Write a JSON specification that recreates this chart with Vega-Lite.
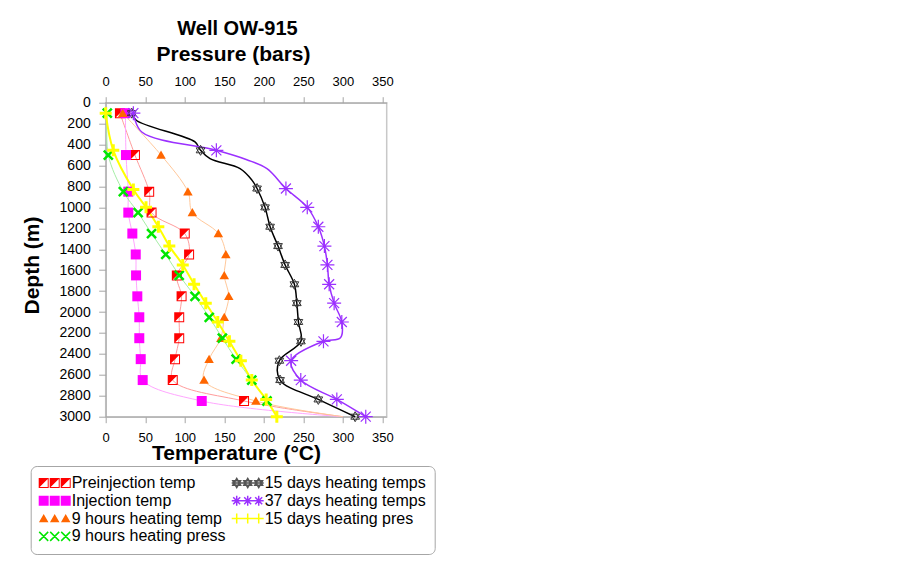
{
  "$schema": "https://vega.github.io/schema/vega-lite/v6.json",
  "width": 281,
  "height": 314,
  "autosize": "none",
  "padding": {"left": 105.7, "top": 102.7, "right": 516.3, "bottom": 157.3},
  "background": "white",
  "config": {
    "font": "Liberation Sans",
    "view": {"stroke": "#c8c8c8", "strokeWidth": 1.5}
  },
  "title": {
    "text": "Well OW-915",
    "font": "Liberation Sans",
    "fontSize": 20,
    "fontWeight": "bold",
    "color": "black",
    "anchor": "middle",
    "dx": -8.7,
    "offset": 5
  },
  "data": {
    "values": [
      {"series": "Preinjection temp", "depth": 100, "value": 18, "measured": true},
      {"series": "Preinjection temp", "depth": 500, "value": 37, "measured": true},
      {"series": "Preinjection temp", "depth": 850, "value": 55, "measured": true},
      {"series": "Preinjection temp", "depth": 1050, "value": 58, "measured": true},
      {"series": "Preinjection temp", "depth": 1250, "value": 100, "measured": true},
      {"series": "Preinjection temp", "depth": 1450, "value": 105.5, "measured": true},
      {"series": "Preinjection temp", "depth": 1650, "value": 90, "measured": true},
      {"series": "Preinjection temp", "depth": 1850, "value": 96, "measured": true},
      {"series": "Preinjection temp", "depth": 2050, "value": 93, "measured": true},
      {"series": "Preinjection temp", "depth": 2250, "value": 93, "measured": true},
      {"series": "Preinjection temp", "depth": 2450, "value": 87.7, "measured": true},
      {"series": "Preinjection temp", "depth": 2650, "value": 84.8, "measured": true},
      {"series": "Preinjection temp", "depth": 2850, "value": 175, "measured": true},
      {"series": "Preinjection temp", "depth": 3000, "value": 300, "measured": false},

      {"series": "Injection temp", "depth": 100, "value": 25, "measured": true},
      {"series": "Injection temp", "depth": 500, "value": 25.7, "measured": true},
      {"series": "Injection temp", "depth": 850, "value": 28.6, "measured": true},
      {"series": "Injection temp", "depth": 1050, "value": 28.6, "measured": true},
      {"series": "Injection temp", "depth": 1250, "value": 33.7, "measured": true},
      {"series": "Injection temp", "depth": 1450, "value": 38, "measured": true},
      {"series": "Injection temp", "depth": 1650, "value": 38.4, "measured": true},
      {"series": "Injection temp", "depth": 1850, "value": 40, "measured": true},
      {"series": "Injection temp", "depth": 2050, "value": 42.5, "measured": true},
      {"series": "Injection temp", "depth": 2250, "value": 42.5, "measured": true},
      {"series": "Injection temp", "depth": 2450, "value": 44.3, "measured": true},
      {"series": "Injection temp", "depth": 2650, "value": 46.8, "measured": true},
      {"series": "Injection temp", "depth": 2850, "value": 121.5, "measured": true},
      {"series": "Injection temp", "depth": 3000, "value": 300, "measured": false},

      {"series": "9 hours heating temp", "depth": 100, "value": 21.5, "measured": true},
      {"series": "9 hours heating temp", "depth": 500, "value": 70, "measured": true},
      {"series": "9 hours heating temp", "depth": 850, "value": 104, "measured": true},
      {"series": "9 hours heating temp", "depth": 1050, "value": 109.6, "measured": true},
      {"series": "9 hours heating temp", "depth": 1250, "value": 142.5, "measured": true},
      {"series": "9 hours heating temp", "depth": 1450, "value": 152, "measured": true},
      {"series": "9 hours heating temp", "depth": 1650, "value": 150, "measured": true},
      {"series": "9 hours heating temp", "depth": 1850, "value": 155.7, "measured": true},
      {"series": "9 hours heating temp", "depth": 2050, "value": 150, "measured": true},
      {"series": "9 hours heating temp", "depth": 2250, "value": 145.6, "measured": true},
      {"series": "9 hours heating temp", "depth": 2450, "value": 130.8, "measured": true},
      {"series": "9 hours heating temp", "depth": 2650, "value": 124.4, "measured": true},
      {"series": "9 hours heating temp", "depth": 2850, "value": 190, "measured": true},
      {"series": "9 hours heating temp", "depth": 3000, "value": 300, "measured": false},

      {"series": "9 hours heating press", "depth": 100, "value": 2, "measured": true},
      {"series": "9 hours heating press", "depth": 500, "value": 3.3, "measured": true},
      {"series": "9 hours heating press", "depth": 850, "value": 22.3, "measured": true},
      {"series": "9 hours heating press", "depth": 1050, "value": 41, "measured": true},
      {"series": "9 hours heating press", "depth": 1250, "value": 58, "measured": true},
      {"series": "9 hours heating press", "depth": 1450, "value": 76, "measured": true},
      {"series": "9 hours heating press", "depth": 1650, "value": 93, "measured": true},
      {"series": "9 hours heating press", "depth": 1850, "value": 113, "measured": true},
      {"series": "9 hours heating press", "depth": 2050, "value": 131, "measured": true},
      {"series": "9 hours heating press", "depth": 2250, "value": 147.6, "measured": true},
      {"series": "9 hours heating press", "depth": 2450, "value": 165, "measured": true},
      {"series": "9 hours heating press", "depth": 2650, "value": 184.8, "measured": true},
      {"series": "9 hours heating press", "depth": 2850, "value": 204, "measured": true},

      {"series": "15 days heating temps", "depth": 100, "value": 33, "measured": true},
      {"series": "15 days heating temps", "depth": 170, "value": 39, "measured": false},
      {"series": "15 days heating temps", "depth": 375, "value": 113, "measured": false},
      {"series": "15 days heating temps", "depth": 455, "value": 120, "measured": true},
      {"series": "15 days heating temps", "depth": 535, "value": 132, "measured": false},
      {"series": "15 days heating temps", "depth": 630, "value": 170, "measured": false},
      {"series": "15 days heating temps", "depth": 740, "value": 185, "measured": false},
      {"series": "15 days heating temps", "depth": 820, "value": 191.5, "measured": true},
      {"series": "15 days heating temps", "depth": 1000, "value": 201.6, "measured": true},
      {"series": "15 days heating temps", "depth": 1185, "value": 208, "measured": true},
      {"series": "15 days heating temps", "depth": 1370, "value": 218, "measured": true},
      {"series": "15 days heating temps", "depth": 1550, "value": 227, "measured": true},
      {"series": "15 days heating temps", "depth": 1735, "value": 238.7, "measured": true},
      {"series": "15 days heating temps", "depth": 1915, "value": 241.8, "measured": true},
      {"series": "15 days heating temps", "depth": 2095, "value": 243.8, "measured": true},
      {"series": "15 days heating temps", "depth": 2280, "value": 247, "measured": true},
      {"series": "15 days heating temps", "depth": 2465, "value": 219.7, "measured": true},
      {"series": "15 days heating temps", "depth": 2650, "value": 220.6, "measured": true},
      {"series": "15 days heating temps", "depth": 2835, "value": 269, "measured": true},
      {"series": "15 days heating temps", "depth": 3000, "value": 315.6, "measured": true},

      {"series": "37 days heating temps", "depth": 100, "value": 35, "measured": true},
      {"series": "37 days heating temps", "depth": 280, "value": 45.6, "measured": false},
      {"series": "37 days heating temps", "depth": 455, "value": 140, "measured": true},
      {"series": "37 days heating temps", "depth": 545, "value": 178.5, "measured": false},
      {"series": "37 days heating temps", "depth": 630, "value": 204, "measured": false},
      {"series": "37 days heating temps", "depth": 820, "value": 228, "measured": true},
      {"series": "37 days heating temps", "depth": 1000, "value": 255, "measured": true},
      {"series": "37 days heating temps", "depth": 1185, "value": 269, "measured": true},
      {"series": "37 days heating temps", "depth": 1370, "value": 276.7, "measured": true},
      {"series": "37 days heating temps", "depth": 1550, "value": 280.5, "measured": true},
      {"series": "37 days heating temps", "depth": 1735, "value": 282.7, "measured": true},
      {"series": "37 days heating temps", "depth": 1915, "value": 289, "measured": true},
      {"series": "37 days heating temps", "depth": 2095, "value": 298.7, "measured": true},
      {"series": "37 days heating temps", "depth": 2245, "value": 297, "measured": false},
      {"series": "37 days heating temps", "depth": 2280, "value": 275.5, "measured": true},
      {"series": "37 days heating temps", "depth": 2465, "value": 234.6, "measured": true},
      {"series": "37 days heating temps", "depth": 2650, "value": 246.8, "measured": true},
      {"series": "37 days heating temps", "depth": 2835, "value": 292.4, "measured": true},
      {"series": "37 days heating temps", "depth": 3000, "value": 329, "measured": true},

      {"series": "15 days heating pres", "depth": 100, "value": 0, "measured": true},
      {"series": "15 days heating pres", "depth": 455, "value": 9.6, "measured": true},
      {"series": "15 days heating pres", "depth": 830, "value": 35, "measured": true},
      {"series": "15 days heating pres", "depth": 1000, "value": 51, "measured": true},
      {"series": "15 days heating pres", "depth": 1185, "value": 66.6, "measured": true},
      {"series": "15 days heating pres", "depth": 1370, "value": 80.5, "measured": true},
      {"series": "15 days heating pres", "depth": 1550, "value": 97.5, "measured": true},
      {"series": "15 days heating pres", "depth": 1735, "value": 111.8, "measured": true},
      {"series": "15 days heating pres", "depth": 1915, "value": 126.6, "measured": true},
      {"series": "15 days heating pres", "depth": 2095, "value": 141.8, "measured": true},
      {"series": "15 days heating pres", "depth": 2280, "value": 156.5, "measured": true},
      {"series": "15 days heating pres", "depth": 2465, "value": 171, "measured": true},
      {"series": "15 days heating pres", "depth": 2650, "value": 184.8, "measured": true},
      {"series": "15 days heating pres", "depth": 2835, "value": 203, "measured": true},
      {"series": "15 days heating pres", "depth": 3000, "value": 216.5, "measured": true}
    ]
  },
  "encoding": {
    "x": {"field": "value", "type": "quantitative", "scale": {"domain": [0, 355.5], "nice": false, "zero": false}, "axis": null},
    "y": {
      "field": "depth",
      "type": "quantitative",
      "scale": {"domain": [0, 3000], "reverse": true, "nice": false, "zero": false},
      "axis": {
        "values": [0, 200, 400, 600, 800, 1000, 1200, 1400, 1600, 1800, 2000, 2200, 2400, 2600, 2800, 3000],
        "format": "d",
        "title": "Depth (m)",
        "titleFontSize": 21,
        "titleFontWeight": "bold",
        "titleColor": "black",
        "titleAngle": -90,
        "titleX": -67.2,
        "titleY": 162.3,
        "titleAlign": "center",
        "titleBaseline": "alphabetic",
        "labelFontSize": 14,
        "labelColor": "black",
        "labelPadding": 8.5,
        "tickSize": 7,
        "tickColor": "#a6a6a6",
        "domainColor": "#a6a6a6",
        "grid": false,
        "labelFlush": false,
        "labelOverlap": false
      }
    }
  },
  "layer": [
    {
      "transform": [{"filter": {"field": "series", "oneOf": ["Preinjection temp", "Injection temp", "9 hours heating temp", "9 hours heating press"]}}],
      "mark": {"type": "line", "interpolate": "catmull-rom", "strokeWidth": 1},
      "encoding": {
        "x": {
          "field": "value", "type": "quantitative",
          "scale": {"domain": [0, 355.5], "nice": false, "zero": false},
          "axis": {
            "orient": "top",
            "values": [0, 50, 100, 150, 200, 250, 300, 350],
            "title": "Pressure (bars)",
            "titleFontSize": 21,
            "titleFontWeight": "bold",
            "titleColor": "black",
            "titleX": 127.3,
            "titleY": -41.7,
            "titleAlign": "center",
            "titleBaseline": "alphabetic",
            "labelFontSize": 13,
            "labelColor": "black",
            "labelPadding": 8,
            "tickSize": 6,
            "tickColor": "#a6a6a6",
            "domainColor": "#a6a6a6",
            "grid": false,
            "labelFlush": false
          }
        },
        "order": {"field": "depth", "type": "quantitative"},
        "stroke": {
          "field": "series", "type": "nominal",
          "scale": {
            "domain": ["Preinjection temp", "Injection temp", "9 hours heating temp", "9 hours heating press", "15 days heating temps", "37 days heating temps", "15 days heating pres"],
            "range": ["#ff9c9c", "#ffa6ff", "#ffc89a", "#a6eea6", "#000000", "#9b30ff", "#ffff00"]
          },
          "legend": null
        }
      }
    },
    {
      "transform": [{"filter": {"field": "series", "oneOf": ["15 days heating temps", "37 days heating temps"]}}],
      "mark": {"type": "line", "interpolate": "catmull-rom", "strokeWidth": 1.5},
      "encoding": {
        "x": {
          "field": "value", "type": "quantitative",
          "scale": {"domain": [0, 355.5], "nice": false, "zero": false},
          "axis": {
            "orient": "bottom",
            "values": [0, 50, 100, 150, 200, 250, 300, 350],
            "title": "Temperature (°C)",
            "titleFontSize": 21,
            "titleFontWeight": "bold",
            "titleColor": "black",
            "titleX": 130.3,
            "titleY": 42.5,
            "titleAlign": "center",
            "titleBaseline": "alphabetic",
            "labelFontSize": 13,
            "labelColor": "black",
            "labelPadding": 8.5,
            "tickSize": 6,
            "tickColor": "#a6a6a6",
            "domainColor": "#a6a6a6",
            "grid": false,
            "labelFlush": false
          }
        },
        "order": {"field": "depth", "type": "quantitative"},
        "stroke": {
          "field": "series", "type": "nominal",
          "scale": {
            "domain": ["Preinjection temp", "Injection temp", "9 hours heating temp", "9 hours heating press", "15 days heating temps", "37 days heating temps", "15 days heating pres"],
            "range": ["#ff9c9c", "#ffa6ff", "#ffc89a", "#a6eea6", "#000000", "#9b30ff", "#ffff00"]
          },
          "legend": null
        }
      }
    },
    {
      "transform": [{"filter": {"field": "series", "equal": "15 days heating pres"}}],
      "mark": {"type": "line", "interpolate": "catmull-rom", "strokeWidth": 2, "stroke": "#ffff00"},
      "encoding": {
        "order": {"field": "depth", "type": "quantitative"},
        "detail": {"field": "series", "type": "nominal"}
      }
    },
    {
      "transform": [{"filter": "datum.measured"}],
      "encoding": {
        "shape": {
          "field": "series", "type": "nominal",
          "scale": {
            "domain": ["Preinjection temp", "Injection temp", "9 hours heating temp", "9 hours heating press", "15 days heating temps", "37 days heating temps", "15 days heating pres"],
            "range": [
              "M-1,-1H1V1H-1Z M-0.8,-0.8V0.8H0.8V-0.8Z M-1,-1H1L-1,1Z",
              "M-1,-1H1V1H-1Z",
              "M0,-0.9L0.95,0.75L-0.95,0.75Z",
              "M-0.9,-0.9L0.9,0.9M-0.9,0.9L0.9,-0.9",
              "M0,-1L0.87,0.5L-0.87,0.5Z M0,1L0.87,-0.5L-0.87,-0.5Z",
              "M-1.4,0H1.4M0,-1.4V1.4M-1,-1L1,1M-1,1L1,-1",
              "M-1.2,0H1.2M0,-1.2V1.2"
            ]
          },
          "legend": null
        }
      },
      "layer": [
        {
          "transform": [{"filter": {"field": "series", "oneOf": ["Preinjection temp", "Injection temp", "9 hours heating temp"]}}],
          "mark": {"type": "point", "size": 100, "opacity": 1, "strokeWidth": 0, "filled": true},
          "encoding": {
            "fill": {
              "field": "series", "type": "nominal",
              "scale": {
                "domain": ["Preinjection temp", "Injection temp", "9 hours heating temp"],
                "range": ["#ff0000", "#ff00ff", "#ff6600"]
              },
              "legend": null
            }
          }
        },
        {
          "transform": [{"filter": {"field": "series", "equal": "9 hours heating press"}}],
          "mark": {"type": "point", "size": 100, "opacity": 1, "filled": false, "fill": "transparent", "stroke": "#00e600", "strokeWidth": 2.5}
        },
        {
          "transform": [{"filter": {"field": "series", "equal": "15 days heating temps"}}],
          "mark": {"type": "point", "size": 100, "opacity": 1, "filled": false, "fill": "transparent", "stroke": "#333333", "strokeWidth": 1}
        },
        {
          "transform": [{"filter": {"field": "series", "equal": "37 days heating temps"}}],
          "mark": {"type": "point", "size": 100, "opacity": 1, "filled": false, "fill": "transparent", "stroke": "#9b30ff", "strokeWidth": 1.2}
        },
        {
          "transform": [{"filter": {"field": "series", "equal": "15 days heating pres"}}],
          "mark": {"type": "point", "size": 100, "opacity": 1, "filled": false, "fill": "transparent", "stroke": "#ffff00", "strokeWidth": 3}
        }
      ]
    },
    {
      "transform": [{"filter": "false"}],
      "mark": {"type": "point", "size": 100, "opacity": 1, "strokeWidth": 1.5},
      "encoding": {
        "shape": {
          "field": "series", "type": "nominal",
          "scale": {
            "domain": ["Preinjection temp", "15 days heating temps", "Injection temp", "37 days heating temps", "9 hours heating temp", "15 days heating pres", "9 hours heating press"],
            "range": [
              "M-1,-1H1V1H-1Z M-0.8,-0.8V0.8H0.8V-0.8Z M-1,-1H1L-1,1Z M1.2,-1H3.2V1H1.2Z M1.4,-0.8V0.8H3V-0.8Z M1.2,-1H3.2L1.2,1Z M3.4,-1H5.4V1H3.4Z M3.6,-0.8V0.8H5.2V-0.8Z M3.4,-1H5.4L3.4,1Z",
              "M-1,0H5.4M0,-0.9L0.78,0.45L-0.78,0.45ZM0,0.9L0.78,-0.45L-0.78,-0.45ZM2.2,-0.9L2.98,0.45L1.42,0.45ZM2.2,0.9L2.98,-0.45L1.42,-0.45ZM4.4,-0.9L5.18,0.45L3.62,0.45ZM4.4,0.9L5.18,-0.45L3.62,-0.45Z",
              "M-1,-1H1V1H-1Z M1.2,-1H3.2V1H1.2Z M3.4,-1H5.4V1H3.4Z",
              "M-1,0H5.4M0,-1V1M-0.7,-0.7L0.7,0.7M-0.7,0.7L0.7,-0.7M2.2,-1V1M1.5,-0.7L2.9,0.7M1.5,0.7L2.9,-0.7M4.4,-1V1M3.7,-0.7L5.1,0.7M3.7,0.7L5.1,-0.7",
              "M0,-0.9L0.95,0.75L-0.95,0.75Z M2.2,-0.9L3.15,0.75L1.25,0.75Z M4.4,-0.9L5.35,0.75L3.45,0.75Z",
              "M-1,0H5.4M0,-1V1M2.2,-1V1M4.4,-1V1",
              "M-0.9,-0.9L0.9,0.9M-0.9,0.9L0.9,-0.9M1.3,-0.9L3.1,0.9M1.3,0.9L3.1,-0.9M3.5,-0.9L5.3,0.9M3.5,0.9L5.3,-0.9"
            ]
          },
          "legend": {
            "orient": "none",
            "direction": "horizontal",
            "legendX": -75,
            "legendY": 363.3,
            "columns": 2,
            "title": null,
            "labelFontSize": 16,
            "labelColor": "black",
            "labelLimit": 400,
            "labelOffset": 20,
            "symbolSize": 100,
            "symbolOpacity": 1,
            "symbolStrokeWidth": 1.5,
            "symbolOffset": -4,
            "rowPadding": 1.8,
            "columnPadding": 3,
            "padding": 9,
            "strokeColor": "#a6a6a6",
            "fillColor": "white",
            "cornerRadius": 6
          }
        },
        "fill": {
          "field": "series", "type": "nominal",
          "scale": {
            "domain": ["Preinjection temp", "15 days heating temps", "Injection temp", "37 days heating temps", "9 hours heating temp", "15 days heating pres", "9 hours heating press"],
            "range": ["#ff0000", "transparent", "#ff00ff", "transparent", "#ff6600", "transparent", "transparent"]
          },
          "legend": {"title": null}
        },
        "stroke": {
          "field": "series", "type": "nominal",
          "scale": {
            "domain": ["Preinjection temp", "15 days heating temps", "Injection temp", "37 days heating temps", "9 hours heating temp", "15 days heating pres", "9 hours heating press"],
            "range": ["transparent", "#555555", "transparent", "#9b30ff", "transparent", "#ffff00", "#00e600"]
          },
          "legend": {"title": null}
        }
      }
    }
  ],
  "resolve": {
    "scale": {"stroke": "independent", "shape": "independent", "fill": "independent"},
    "axis": {"x": "independent"}
  }
}
